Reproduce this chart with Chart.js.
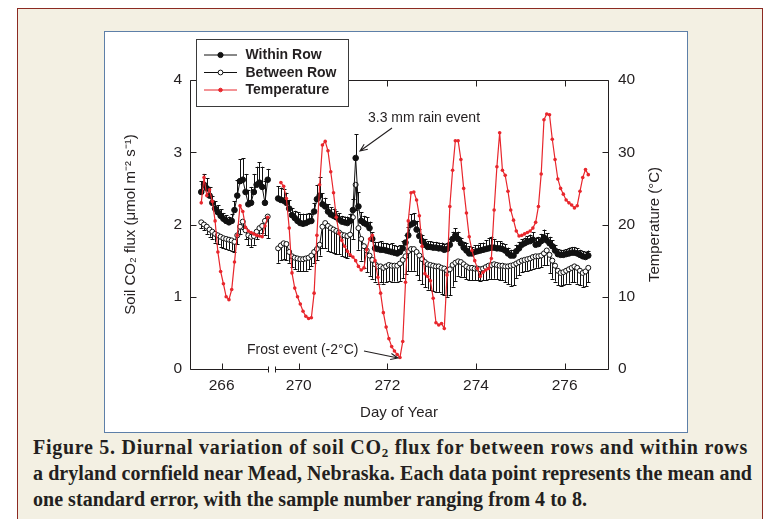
<!DOCTYPE html>
<html>
<head>
<meta charset="utf-8">
<script src="https://cdn.jsdelivr.net/npm/chart.js@4.4.1/dist/chart.umd.min.js"></script>
<style>
  html, body { margin: 0; padding: 0; background: #fff; }
  body { width: 778px; height: 519px; position: relative; overflow: hidden; }
  #panel { position: absolute; left: 17px; top: 8px; width: 746px; height: 530px; background: #f3f0e3; border: 1px solid #8c2a22; box-sizing: border-box; }
  #plotBox { position: absolute; left: 104px; top: 31px; width: 584px; height: 402px; background: #fff; border: 1px solid #5d7fa8; box-sizing: border-box; }
  #chart { position: absolute; left: 104px; top: 31px; }
  #caption { position: absolute; left: 33px; top: 434px; font: bold 20px "Liberation Serif", "DejaVu Serif", serif; line-height: 26px; color: #231f20; white-space: nowrap; }
  #caption span { display: inline-block; }
  #caption sub { font-size: 13px; vertical-align: -3px; line-height: 0; }
</style>
</head>
<body>
<div id="panel"></div>
<div id="plotBox"></div>
<canvas id="chart" width="584" height="401"></canvas>
<div id="caption"><span data-w="715">Figure 5. Diurnal variation of soil CO<sub>2</sub> flux for between rows and within rows</span><br><span data-w="719">a dryland cornfield near Mead, Nebraska. Each data point represents the mean and</span><br><span data-w="554">one standard error, with the sample number ranging from 4 to 8.</span></div>
<script>
// sampling: every 1.5 h, two measurement periods
const leftStartDay = 265.54;
const rightStartDay = 269.535;
const stepDay = 0.0625;
const tickDays = [266, 270, 272, 274, 276];

// Within Row flux (umol m-2 s-1) and its standard error
const withinLeft = [2.45,2.55,2.5,2.4,2.3,2.22,2.17,2.12,2.08,2.05,2.03,2.05,2.2,2.4,2.6,2.62,2.45,2.28,2.3,2.45,2.55,2.58,2.52,2.3,2.62];
const withinRight = [
  2.36,2.34,2.33,2.30,2.22,2.13,2.09,2.05,2.02,2.01,
  2.02,2.04,2.05,2.18,2.35,2.40,2.28,2.25,2.18,2.14,
  2.12,2.10,2.07,2.04,2.03,2.02,2.05,2.20,2.92,2.25,
  2.05,2.02,2.00,1.95,1.80,1.67,1.66,1.65,1.65,1.64,
  1.63,1.62,1.61,1.60,1.62,1.67,1.75,1.85,2.00,2.02,
  1.93,1.84,1.77,1.72,1.69,1.69,1.68,1.68,1.67,1.67,
  1.65,1.66,1.72,1.80,1.85,1.80,1.74,1.68,1.64,1.60,
  1.60,1.62,1.63,1.64,1.65,1.66,1.67,1.68,1.68,1.67,
  1.67,1.66,1.64,1.60,1.57,1.57,1.63,1.67,1.72,1.74,
  1.76,1.77,1.79,1.72,1.73,1.77,1.82,1.78,1.74,1.70,
  1.64,1.59,1.58,1.58,1.59,1.60,1.61,1.61,1.60,1.58,
  1.56,1.55,1.57];
const withinErrLeft = [0.15,0.15,0.14,0.12,0.1,0.1,0.1,0.09,0.08,0.08,0.08,0.1,0.12,0.22,0.3,0.3,0.25,0.2,0.22,0.25,0.25,0.28,0.28,0.3,0.15];
const withinErrRight = [
  0.17,0.17,0.16,0.14,0.12,
  0.1,0.1,0.12,0.13,0.14,0.13,0.12,0.1,
  0.12,0.2,0.26,0.15,
  0.12,0.1,0.1,0.1,0.09,0.09,0.08,0.08,0.09,0.1,
  0.15,0.33,0.2,0.12,
  0.1,0.1,0.09,0.09,
  0.09,0.1,0.12,0.1,0.1,0.1,0.12,0.1,0.1,0.09,0.1,0.1,
  0.12,0.14,0.14,0.12,
  0.1,0.09,0.08,0.08,0.08,0.08,0.08,0.08,0.08,0.08,0.08,
  0.08,0.1,0.1,0.1,0.08,
  0.08,0.1,0.1,0.09,0.09,0.09,0.1,0.1,0.12,0.14,0.15,0.12,0.1,0.1,0.09,0.09,
  0.08,0.08,0.08,0.09,0.09,0.08,0.08,0.08,0.09,0.1,
  0.1,0.1,0.1,0.11,0.1,0.09,0.08,
  0.08,0.07,0.07,0.07,0.07,0.08,0.08,0.08,0.07,0.07,0.07,0.07,0.07];

// Between Row flux and its standard error
const betweenLeft = [2.03,2.0,1.97,1.93,1.9,1.87,1.85,1.83,1.81,1.8,1.79,1.78,1.76,1.85,1.97,2.04,1.92,1.85,1.83,1.84,1.9,1.95,1.98,2.05,2.11];
const betweenRight = [
  1.67,1.71,1.74,1.73,1.62,1.56,1.54,1.53,1.52,1.52,
  1.53,1.54,1.57,1.62,1.66,1.72,1.97,2.02,1.98,1.95,
  1.93,1.91,1.89,1.86,1.85,1.84,1.86,2.10,2.55,1.95,
  1.80,1.70,1.64,1.57,1.51,1.45,1.42,1.42,1.40,1.42,
  1.44,1.43,1.43,1.43,1.46,1.51,1.56,1.63,1.66,1.66,
  1.62,1.57,1.52,1.48,1.45,1.44,1.43,1.42,1.42,1.40,
  1.39,1.36,1.38,1.44,1.47,1.49,1.48,1.45,1.42,1.40,
  1.40,1.39,1.39,1.38,1.39,1.41,1.43,1.44,1.45,1.44,
  1.43,1.43,1.42,1.42,1.43,1.44,1.46,1.48,1.50,1.51,
  1.52,1.53,1.55,1.56,1.56,1.57,1.60,1.64,1.58,1.50,
  1.43,1.36,1.33,1.34,1.36,1.38,1.40,1.42,1.40,1.36,
  1.33,1.35,1.40];
const betweenErrLeft = [0.08,0.08,0.1,0.1,0.1,0.12,0.12,0.14,0.14,0.14,0.14,0.14,0.14,0.12,0.1,0.1,0.12,0.14,0.14,0.12,0.1,0.1,0.1,0.2,0.3];
const betweenErrRight = [
  0.2,0.2,0.22,0.22,0.15,
  0.15,0.16,0.17,0.17,0.17,0.17,0.16,0.15,0.15,0.15,0.15,
  0.3,0.35,0.35,0.33,0.33,0.32,0.3,0.3,0.3,0.3,0.3,
  0.3,0.35,0.3,0.3,
  0.3,0.3,0.28,0.26,0.24,0.24,0.22,0.22,0.22,0.22,0.22,0.22,0.22,0.24,0.25,0.25,
  0.28,0.3,0.3,0.32,0.34,0.35,0.35,0.35,0.35,0.35,0.35,0.36,0.36,0.36,0.36,0.36,
  0.3,0.25,0.2,0.2,0.18,0.18,0.17,0.17,0.16,0.16,0.16,0.16,0.18,0.18,0.2,0.2,0.2,0.2,0.2,0.22,
  0.25,0.28,0.28,0.2,0.18,0.16,0.16,0.16,0.16,0.16,0.16,0.16,0.16,0.16,0.2,0.25,0.25,
  0.22,0.2,0.18,0.18,0.18,0.2,0.2,0.22,0.22,0.2,0.2,0.2,0.2];

// Temperature (deg C)
const tempLeft = [23.0,26.5,24.0,24.8,23.2,20.5,16.2,13.5,11.8,10.0,9.6,11.0,14.8,18.5,22.6,21.8,19.6,19.1,18.9,18.7,18.5,18.4,18.3,19.8,21.0];
const tempRight = [
  null,25.8,25.3,23.6,19.5,13.3,11.2,10.0,9.0,8.0,
  7.3,7.0,7.1,10.5,18.5,25.5,31.0,31.5,30.2,27.3,
  24.4,21.0,18.8,17.8,17.0,16.3,15.8,15.5,15.0,14.2,
  13.7,14.0,16.5,18.0,18.5,15.0,12.7,10.5,7.8,5.8,
  4.2,3.1,2.5,2.0,1.6,3.8,12.0,20.5,24.4,24.5,
  23.4,21.2,17.0,13.2,12.8,12.2,9.8,6.4,6.1,6.3,
  5.6,13.0,22.5,27.5,31.6,31.6,29.0,25.0,21.6,18.3,
  16.4,15.0,13.9,12.8,13.4,13.7,13.9,15.3,22.0,28.0,
  32.7,27.5,26.8,24.6,22.0,20.6,19.1,18.4,18.5,18.7,
  18.9,19.1,19.5,20.3,22.5,27.0,34.5,35.3,35.2,31.8,
  29.0,26.3,25.0,24.2,23.4,23.0,22.7,22.3,22.6,24.6,
  26.5,27.6,26.9];

// axis break: days 267.2 - 269.46 are cut out of the x axis
const axisShift = 2.26;
const breakEnd = 267.04;   // axis units, end of first segment
const breakStart = 267.2;  // axis units, start of second segment

function dayToAxis(d) {
  return d > 268 ? d - axisShift : d;
}
function axisToDay(u) {
  return u > 267.1 ? u + axisShift : u;
}
function sampleDays(start, n) {
  let result = [];
  for (let i = 0; i < n; i++) result.push(start + i * stepDay);
  return result;
}
const leftDays = sampleDays(leftStartDay, withinLeft.length);
const rightDays = sampleDays(rightStartDay, withinRight.length);

function buildSeries(left, right) {
  const pts = leftDays.map((d, i) => ({ x: dayToAxis(d), y: left[i] }));
  pts.push({ x: 267.12, y: null }); // break the line across the gap
  rightDays.forEach((d, i) => pts.push({ x: dayToAxis(d), y: right[i] }));
  return pts;
}
const withinErr = [...withinErrLeft, null, ...withinErrRight];
const betweenErr = [...betweenErrLeft, null, ...betweenErrRight];

const ink = "#231f20";
const red = "#e8262c";
const sans = "'Liberation Sans', Arial, sans-serif";

// stretch each caption line to the width it has in the printed figure
document.querySelectorAll("#caption span").forEach(span => {
  const target = +span.dataset.w;
  const chars = span.textContent.length;
  const w = span.getBoundingClientRect().width;
  span.style.letterSpacing = ((target - w) / chars).toFixed(3) + "px";
});

function drawArrow(ctx, x1, y1, x2, y2) {
  const a = Math.atan2(y2 - y1, x2 - x1);
  ctx.beginPath();
  ctx.moveTo(x1, y1);
  ctx.lineTo(x2, y2);
  ctx.moveTo(x2 - 8 * Math.cos(a - 0.4), y2 - 8 * Math.sin(a - 0.4));
  ctx.lineTo(x2, y2);
  ctx.lineTo(x2 - 8 * Math.cos(a + 0.4), y2 - 8 * Math.sin(a + 0.4));
  ctx.stroke();
}

// error bars: within row up, between row down
const errorBars = {
  id: "errorBars",
  beforeDatasetsDraw(chart) {
    const ctx = chart.ctx;
    const yScale = chart.scales.y;
    ctx.save();
    ctx.strokeStyle = "#111";
    ctx.lineWidth = 1;
    [[0, withinErr, 1], [1, betweenErr, -1]].forEach(([idx, errs, dir]) => {
      const ds = chart.data.datasets[idx];
      chart.getDatasetMeta(idx).data.forEach((el, k) => {
        const raw = ds.data[k];
        if (raw.y == null || errs[k] == null) return;
        const yEnd = yScale.getPixelForValue(raw.y + dir * errs[k]);
        const x = Math.round(el.x) + 0.5;
        ctx.beginPath();
        ctx.moveTo(x, el.y);
        ctx.lineTo(x, yEnd);
        ctx.moveTo(x - 2, Math.round(yEnd) + 0.5);
        ctx.lineTo(x + 2, Math.round(yEnd) + 0.5);
        ctx.stroke();
      });
    });
    ctx.restore();
  }
};

// box frame with inward ticks and the axis break
const frame = {
  id: "frame",
  afterDatasetsDraw(chart) {
    const { ctx, chartArea: a, scales } = chart;
    const L = Math.round(a.left) + 0.5, R = Math.round(a.right) + 0.5;
    const T = Math.round(a.top) + 0.5, B = Math.round(a.bottom) + 0.5;
    const xb1 = Math.round(scales.x.getPixelForValue(breakEnd)) + 0.5;
    const xb2 = Math.round(scales.x.getPixelForValue(breakStart)) + 0.5;
    ctx.save();
    ctx.strokeStyle = ink;
    ctx.lineWidth = 1;
    ctx.beginPath();
    ctx.moveTo(L, T); ctx.lineTo(R, T);
    ctx.moveTo(L, T); ctx.lineTo(L, B);
    ctx.moveTo(R, T); ctx.lineTo(R, B);
    ctx.moveTo(L, B); ctx.lineTo(xb1, B);
    ctx.moveTo(xb2, B); ctx.lineTo(R, B);
    ctx.moveTo(xb1, B - 3); ctx.lineTo(xb1, B + 3);
    ctx.moveTo(xb2, B - 3); ctx.lineTo(xb2, B + 3);
    scales.x.ticks.forEach(t => {
      const px = Math.round(scales.x.getPixelForValue(t.value)) + 0.5;
      ctx.moveTo(px, B); ctx.lineTo(px, B - 6);
      ctx.moveTo(px, T); ctx.lineTo(px, T + 6);
    });
    scales.y.ticks.forEach(t => {
      const py = Math.round(scales.y.getPixelForValue(t.value)) + 0.5;
      ctx.moveTo(L, py); ctx.lineTo(L + 6, py);
    });
    scales.y2.ticks.forEach(t => {
      const py = Math.round(scales.y2.getPixelForValue(t.value)) + 0.5;
      ctx.moveTo(R, py); ctx.lineTo(R - 6, py);
    });
    ctx.stroke();
    ctx.restore();
  }
};

// legend box, right axis title and the two event notes
const overlay = {
  id: "overlay",
  afterDraw(chart) {
    const ctx = chart.ctx;
    const a = chart.chartArea;
    ctx.save();
    // right axis title, reading upwards
    ctx.translate(551, (a.top + a.bottom) / 2);
    ctx.rotate(-Math.PI / 2);
    ctx.fillStyle = ink;
    ctx.font = "15px " + sans;
    ctx.textAlign = "center";
    ctx.textBaseline = "middle";
    ctx.fillText("Temperature (°C)", 0, 0);
    ctx.restore();

    // legend
    ctx.save();
    ctx.fillStyle = "#fff";
    ctx.fillRect(92.5, 8.5, 152, 67);
    ctx.strokeStyle = "#3a3a3a";
    ctx.lineWidth = 1;
    ctx.strokeRect(92.5, 8.5, 152, 67);
    const rows = [
      { label: "Within Row", line: "#111", fill: "#111", r: 2.6 },
      { label: "Between Row", line: "#111", fill: "#fff", r: 2.4 },
      { label: "Temperature", line: red, fill: red, r: 1.8 }
    ];
    rows.forEach((row, i) => {
      const y = 24 + i * 17.5;
      ctx.strokeStyle = row.line;
      ctx.beginPath();
      ctx.moveTo(100, y); ctx.lineTo(133, y);
      ctx.stroke();
      ctx.beginPath();
      ctx.arc(116.5, y, row.r, 0, Math.PI * 2);
      ctx.fillStyle = row.fill;
      ctx.fill();
      ctx.stroke();
      ctx.fillStyle = ink;
      ctx.font = "bold 14px " + sans;
      ctx.textBaseline = "middle";
      ctx.textAlign = "left";
      ctx.fillText(row.label, 141.5, y + 0.5);
    });

    // notes
    ctx.font = "14px " + sans;
    ctx.fillStyle = ink;
    ctx.textAlign = "left";
    ctx.fillText("3.3 mm rain event", 264, 87);
    ctx.fillText("Frost event (-2°C)", 143, 319);
    ctx.strokeStyle = ink;
    ctx.lineWidth = 1.1;
    drawArrow(ctx, 288, 97, 256, 120);
    drawArrow(ctx, 260, 320, 294, 327);
    ctx.restore();
  }
};

const chart = new Chart(document.getElementById("chart").getContext("2d"), {
  type: "line",
  data: {
    datasets: [
      {
        label: "Within Row",
        data: buildSeries(withinLeft, withinRight),
        yAxisID: "y",
        borderColor: "#111",
        borderWidth: 1,
        backgroundColor: "#111",
        pointBackgroundColor: "#111",
        pointBorderColor: "#111",
        pointRadius: 2.8,
        pointBorderWidth: 1,
        tension: 0,
        spanGaps: false,
        order: 1
      },
      {
        label: "Between Row",
        data: buildSeries(betweenLeft, betweenRight),
        yAxisID: "y",
        borderColor: "#111",
        borderWidth: 1,
        backgroundColor: "#fff",
        pointBackgroundColor: "#fff",
        pointBorderColor: "#111",
        pointRadius: 2.5,
        pointBorderWidth: 1,
        tension: 0,
        spanGaps: false,
        order: 2
      },
      {
        label: "Temperature",
        data: buildSeries(tempLeft, tempRight),
        yAxisID: "y2",
        borderColor: red,
        borderWidth: 1.2,
        backgroundColor: red,
        pointBackgroundColor: red,
        pointBorderColor: red,
        pointRadius: 1.8,
        pointBorderWidth: 0,
        tension: 0,
        spanGaps: false,
        order: 0
      }
    ]
  },
  options: {
    responsive: false,
    animation: false,
    events: [],
    layout: { padding: { left: 18, right: 24, top: 49, bottom: 0 } },
    plugins: {
      legend: { display: false },
      tooltip: { enabled: false }
    },
    scales: {
      x: {
        type: "linear",
        min: 265.286,
        max: 274.72,
        afterBuildTicks: s => { s.ticks = tickDays.map(d => ({ value: dayToAxis(d) })); },
        afterFit: s => { s.height = 63; },
        grid: { display: false, drawTicks: false },
        border: { display: false },
        ticks: {
          autoSkip: false,
          maxRotation: 0,
          padding: 7,
          color: ink,
          font: { family: sans, size: 15.5 },
          callback: v => String(Math.round(axisToDay(v)))
        },
        title: {
          display: true,
          text: "Day of Year",
          color: ink,
          font: { family: sans, size: 15 },
          padding: { top: 0, bottom: 10 }
        }
      },
      y: {
        position: "left",
        min: 0,
        max: 4,
        afterFit: s => { s.width = 68; },
        grid: { display: false, drawTicks: false },
        border: { display: false },
        ticks: { stepSize: 1, padding: 8, color: ink, font: { family: sans, size: 15.5 } },
        title: {
          display: true,
          text: "Soil CO₂ flux (μmol m⁻² s⁻¹)",
          color: ink,
          font: { family: sans, size: 15 },
          padding: { top: 0, bottom: 0 }
        }
      },
      y2: {
        position: "right",
        min: 0,
        max: 40,
        afterFit: s => { s.width = 56; },
        grid: { display: false, drawTicks: false },
        border: { display: false },
        ticks: { stepSize: 10, padding: 10, color: ink, font: { family: sans, size: 15.5 } }
      }
    }
  },
  plugins: [errorBars, frame, overlay]
});
</script>
</body>
</html>
